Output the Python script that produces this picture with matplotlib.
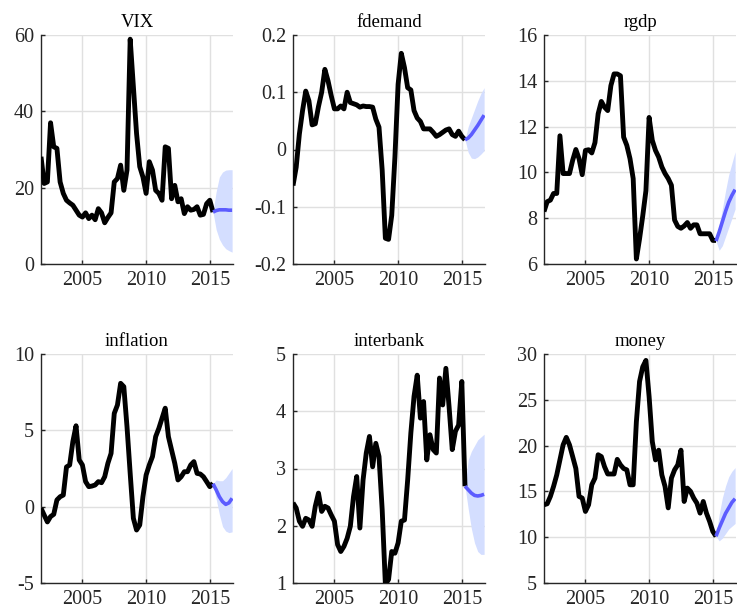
import numpy as np
import matplotlib
matplotlib.use("Agg")
import matplotlib.pyplot as plt

plt.rcParams['font.family'] = ['Liberation Serif', 'DejaVu Serif']
plt.rcParams['axes.unicode_minus'] = False

# ---------------- data ----------------
hist_start = 2001.75          # 2001Q4
fc_start = 2015.25            # 2015Q2 (last observed)
n_hist = 55
n_fc = 7

titles = ["VIX", "fdemand", "rgdp", "inflation", "interbank", "money"]

vix_hist = [28.1, 21.1, 21.5, 37.0, 30.7, 30.3, 21.5, 18.5, 16.7, 16.0, 15.4, 14.1,
            12.8, 12.3, 13.4, 11.9, 12.8, 11.6, 14.5, 13.4, 10.8, 12.2, 13.4, 21.5,
            22.4, 25.9, 19.3, 24.6, 58.9, 46.5, 34.2, 25.5, 22.8, 18.5, 26.8, 24.6,
            19.3, 18.5, 16.7, 30.7, 30.3, 17.1, 20.6, 16.3, 17.1, 13.2, 15.0, 14.1,
            14.3, 15.0, 12.8, 13.0, 15.8, 16.7, 13.6]
vix_fc = [13.6, 14.0, 14.2, 14.2, 14.2, 14.1, 14.1]
vix_lo = [13.6, 9.0, 6.5, 5.0, 4.0, 3.5, 3.1]
vix_hi = [13.6, 19.0, 22.8, 24.1, 24.6, 24.7, 24.7]

fdemand_hist = [-0.063, -0.031, 0.027, 0.068, 0.102, 0.085, 0.043, 0.045, 0.075, 0.100,
                0.140, 0.120, 0.094, 0.071, 0.071, 0.076, 0.071, 0.100, 0.082, 0.080,
                0.078, 0.074, 0.076, 0.075, 0.075, 0.074, 0.053, 0.039, -0.036, -0.155,
                -0.157, -0.115, -0.013, 0.114, 0.168, 0.143, 0.108, 0.104, 0.068, 0.055,
                0.049, 0.036, 0.036, 0.036, 0.030, 0.023, 0.026, 0.030, 0.034, 0.036,
                0.026, 0.023, 0.032, 0.023, 0.017]
fdemand_fc = [0.017, 0.020, 0.026, 0.034, 0.042, 0.051, 0.060]
fdemand_lo = [0.017, -0.005, -0.015, -0.016, -0.013, -0.008, -0.002]
fdemand_hi = [0.017, 0.040, 0.055, 0.070, 0.085, 0.098, 0.108]

rgdp_hist = [8.29, 8.72, 8.79, 9.08, 9.08, 11.6, 9.95, 9.95, 9.95, 10.53, 11.0, 10.6,
             9.9, 10.96, 10.99, 10.85, 11.3, 12.56, 13.1, 12.85, 12.7, 13.79, 14.3, 14.3,
             14.22, 11.54, 11.18, 10.6, 9.73, 6.22, 7.1, 8.1, 9.2, 12.4, 11.4, 10.96,
             10.67, 10.24, 9.95, 9.73, 9.44, 7.92, 7.64, 7.56, 7.66, 7.81, 7.56, 7.71,
             7.71, 7.32, 7.32, 7.32, 7.32, 7.03, 7.03]
rgdp_fc = [7.0, 7.4, 7.85, 8.3, 8.7, 9.0, 9.25]
rgdp_lo = [7.0, 6.6, 6.8, 7.2, 7.6, 8.0, 8.4]
rgdp_hi = [7.0, 7.7, 8.4, 9.2, 9.9, 10.4, 10.9]

inflation_hist = [-0.1, -0.55, -1.0, -0.65, -0.5, 0.44, 0.65, 0.76, 2.6, 2.73, 4.26, 5.3,
                  3.06, 2.73, 1.64, 1.31, 1.35, 1.42, 1.64, 1.57, 1.96, 2.84, 3.49, 6.11,
                  6.66, 8.08, 7.86, 5.24, 2.18, -0.76, -1.53, -1.2, 0.65, 2.07, 2.73, 3.28,
                  4.59, 5.13, 5.79, 6.45, 4.59, 3.71, 2.84, 1.75, 1.96, 2.29, 2.29, 2.73,
                  2.95, 2.18, 2.14, 1.96, 1.64, 1.31, 1.53]
inflation_fc = [1.5, 1.1, 0.65, 0.33, 0.15, 0.25, 0.55]
inflation_lo = [1.5, 0.5, -0.5, -1.3, -1.6, -1.7, -1.65]
inflation_hi = [1.5, 1.75, 1.7, 1.7, 1.9, 2.2, 2.5]

interbank_hist = [2.40, 2.31, 2.08, 1.99, 2.13, 2.10, 1.99, 2.34, 2.57, 2.25, 2.34, 2.31,
                  2.19, 2.08, 1.67, 1.55, 1.64, 1.78, 1.99, 2.51, 2.86, 1.96, 2.80, 3.27,
                  3.56, 3.03, 3.44, 3.21, 2.28, 0.98, 1.06, 1.55, 1.52, 1.70, 2.08, 2.10,
                  2.80, 3.62, 4.26, 4.63, 3.88, 4.17, 3.15, 3.59, 3.33, 3.27, 4.58, 4.11,
                  4.75, 4.08, 3.33, 3.65, 3.76, 4.52, 2.69]
interbank_fc = [2.69, 2.63, 2.57, 2.53, 2.52, 2.53, 2.55]
interbank_lo = [2.69, 2.3, 1.95, 1.7, 1.55, 1.5, 1.5]
interbank_hi = [2.69, 3.15, 3.3, 3.4, 3.5, 3.55, 3.6]

money_hist = [13.54, 13.65, 14.45, 15.54, 16.8, 18.44, 20.08, 20.9, 20.08, 18.8, 17.5,
              14.45, 14.27, 12.81, 13.54, 15.72, 16.45, 19.0, 18.8, 17.7, 16.9, 16.9,
              16.9, 18.5, 17.9, 17.5, 17.35, 15.72, 15.72, 22.6, 27.0, 28.6, 29.3,
              25.35, 20.44, 18.44, 19.5, 16.8, 15.54, 13.2, 16.45, 17.35, 17.9, 19.5,
              13.9, 15.36, 15.0, 14.27, 13.72, 12.63, 13.9, 12.63, 11.72, 10.63, 10.09]
money_fc = [10.1, 11.0, 11.8, 12.6, 13.2, 13.8, 14.2]
money_lo = [10.1, 9.6, 9.9, 10.4, 10.9, 11.2, 11.5]
money_hi = [10.1, 12.5, 14.3, 15.6, 16.6, 17.2, 17.6]

hist_series = [vix_hist, fdemand_hist, rgdp_hist, inflation_hist, interbank_hist, money_hist]
fc_series = [vix_fc, fdemand_fc, rgdp_fc, inflation_fc, interbank_fc, money_fc]
lo_series = [vix_lo, fdemand_lo, rgdp_lo, inflation_lo, interbank_lo, money_lo]
hi_series = [vix_hi, fdemand_hi, rgdp_hi, inflation_hi, interbank_hi, money_hi]

ylims = [(0, 60), (-0.2, 0.2), (6, 16), (-5, 10), (1, 5), (5, 30)]
yticks = [[0, 20, 40, 60], [-0.2, -0.1, 0, 0.1, 0.2], [6, 8, 10, 12, 14, 16],
          [-5, 0, 5, 10], [1, 2, 3, 4, 5], [5, 10, 15, 20, 25, 30]]
yticklabels = [["0", "20", "40", "60"], ["-0.2", "-0.1", "0", "0.1", "0.2"],
               ["6", "8", "10", "12", "14", "16"], ["-5", "0", "5", "10"],
               ["1", "2", "3", "4", "5"], ["5", "10", "15", "20", "25", "30"]]
xticks = [2005, 2010, 2015]
xticklabels = ["2005", "2010", "2015"]

# ---------------- figure ----------------
W, H = 737, 616
fig = plt.figure(figsize=(W / 100, H / 100), dpi=100)

lefts = [41, 293, 544]
tops = [35, 354]
aw, ah = 192, 229

t_hist = hist_start + 0.25 * np.arange(n_hist)
t_fc = fc_start + 0.25 * np.arange(n_fc)

axcol = '#262626'
for k in range(6):
    r, c = divmod(k, 3)
    x0 = lefts[c] / W
    y0 = 1 - (tops[r] + ah) / H
    ax = fig.add_axes([x0, y0, aw / W, ah / H])
    ax.fill_between(t_fc, lo_series[k], hi_series[k], color='#d4deff', lw=0, zorder=2)
    ax.plot(t_hist, hist_series[k], color='black', lw=3.5, zorder=3,
            solid_joinstyle='round', solid_capstyle='butt')
    ax.plot(t_fc, fc_series[k], color='#5c5cff', lw=2.6, zorder=4,
            solid_joinstyle='round', solid_capstyle='butt')
    ax.set_xlim(2001.75, 2016.82)
    ax.set_ylim(*ylims[k])
    ax.set_xticks(xticks)
    ax.set_xticklabels(xticklabels)
    ax.set_yticks(yticks[k])
    ax.set_yticklabels(yticklabels[k])
    ax.grid(True, color='#e0e0e0', lw=1.0, zorder=0)
    ax.set_axisbelow(True)
    for s in ['top', 'right']:
        ax.spines[s].set_visible(False)
    for s in ['left', 'bottom']:
        ax.spines[s].set_color(axcol)
        ax.spines[s].set_linewidth(1.0)
    ax.tick_params(direction='in', length=3, width=1, color=axcol,
                   labelcolor=axcol, labelsize=14.5, pad=5)
    ax.set_title(titles[k], fontsize=13.5, color='black', pad=6)

fig.savefig("out.png", dpi=100)
